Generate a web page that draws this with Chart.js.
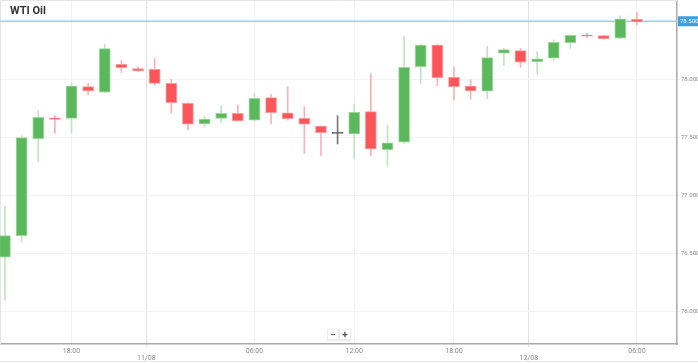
<!DOCTYPE html>
<html>
<head>
<meta charset="utf-8">
<script src="https://cdn.jsdelivr.net/npm/chart.js@4.4.1/dist/chart.umd.min.js"></script>
<style>
  html, body { margin: 0; padding: 0; background: #fff; }
  #wrap { position: relative; width: 698px; height: 364px; font-family: Roboto, "Open Sans", sans-serif; }
  #chart { display: block; }
  #title { position: absolute; left: 10px; top: 4px; font-size: 11px; font-weight: bold; color: #333; }
  .zbtn { position: absolute; top: 329px; width: 10px; height: 9px; background: #fff; border: 1px solid #ececec;
          box-shadow: 0 1px 1px rgba(0,0,0,0.08);
          font-size: 10px; line-height: 9px; text-align: center; color: #555; font-weight: bold; }
  #bottomline { position: absolute; left: 0; top: 361px; width: 698px; height: 1px; background: #e6e6e6; }
</style>
</head>
<body>
<div id="wrap">
  <canvas id="chart" width="698" height="364"></canvas>
  <div id="title">WTI Oil</div>
  <div class="zbtn" style="left:327px">−</div>
  <div class="zbtn" style="left:339px">+</div>
  <div id="bottomline"></div>
</div>
<script>
// hourly candles, 10/08 14:00 -> 12/08 06:00 (23:00 break skipped)
const hours = ['14:00','15:00','16:00','17:00','18:00','19:00','20:00','21:00','22:00',
  '00:00','01:00','02:00','03:00','04:00','05:00','06:00','07:00','08:00','09:00','10:00','11:00',
  '12:00','13:00','14:00','15:00','16:00','17:00','18:00','19:00','20:00','21:00','22:00',
  '00:00','01:00','02:00','03:00','04:00','05:00','06:00'];

const opens  = [76.47, 76.655, 77.49, 77.67, 77.665, 77.937, 77.889, 78.13, 78.092,
  78.087, 77.966, 77.794, 77.616, 77.665, 77.708, 77.648, 77.843, 77.713, 77.665, 77.599, 77.536,
  77.53, 77.722, 77.395, 77.459, 78.109, 78.296, 78.018, 77.943, 77.898, 78.225, 78.247,
  78.152, 78.182, 78.316, 78.38, 78.376, 78.354, 78.517];
const highs  = [76.91, 77.515, 77.73, 77.69, 77.972, 77.966, 78.305, 78.161, 78.109,
  78.18, 78.0, 77.80, 77.685, 77.771, 77.78, 77.88, 77.872, 77.937, 77.765, 77.60, 77.688,
  77.788, 78.046, 77.608, 78.373, 78.30, 78.30, 78.109, 77.995, 78.287, 78.268, 78.268,
  78.238, 78.339, 78.385, 78.397, 78.38, 78.546, 78.577];
const lows   = [76.10, 76.60, 77.29, 77.536, 77.536, 77.866, 77.885, 78.058, 78.066,
  77.949, 77.708, 77.565, 77.593, 77.627, 77.64, 77.64, 77.616, 77.65, 77.364, 77.343, 77.444,
  77.315, 77.341, 77.257, 77.45, 77.966, 77.946, 77.823, 77.829, 77.831, 78.118, 78.104,
  78.044, 78.164, 78.268, 78.359, 78.345, 78.35, 78.468];
const closes = [76.655, 77.50, 77.674, 77.655, 77.943, 77.90, 78.264, 78.10, 78.072,
  77.966, 77.80, 77.614, 77.659, 77.708, 77.642, 77.837, 77.713, 77.662, 77.614, 77.541, 77.536,
  77.717, 77.401, 77.453, 78.104, 78.296, 78.015, 77.937, 77.90, 78.187, 78.256, 78.147,
  78.176, 78.319, 78.38, 78.372, 78.35, 78.52, 78.494];

const currentPrice = 78.5;

const xTickPos    = [4, 8.5, 15, 21, 27, 31.5, 38];
const xTickLabels = ['18:00', ['', '11/08'], '06:00', '12:00', '18:00', ['', '12/08'], '06:00'];
const yTicks      = [76.0, 76.5, 77.0, 77.5, 78.0, 78.5];

const GREEN = '#5cb85c', GREEN_EDGE = '#9fd59f', GREEN_WICK = '#c2e4c2';
const RED = '#fc555a', RED_EDGE = '#fb9a9c', RED_WICK = '#f9b3b5';
const DOJI = '#555555';

function dir(i) {
  if (closes[i] > opens[i]) return 1;
  if (closes[i] < opens[i]) return -1;
  return 0;
}

const priceLine = {
  id: 'priceLine',
  beforeDatasetsDraw(chart) {
    const { ctx, chartArea, scales } = chart;
    const y = scales.y.getPixelForValue(currentPrice);
    ctx.save();
    // frame edges
    ctx.strokeStyle = '#e6e6e6';
    ctx.lineWidth = 1;
    ctx.beginPath();
    ctx.moveTo(0.5, 0);
    ctx.lineTo(0.5, chartArea.bottom);
    ctx.moveTo(0, 0.5);
    ctx.lineTo(chartArea.right, 0.5);
    ctx.stroke();
    // current price line
    ctx.strokeStyle = '#9ccdf1';
    ctx.lineWidth = 1.5;
    ctx.beginPath();
    ctx.moveTo(chartArea.left, y);
    ctx.lineTo(chartArea.right, y);
    ctx.stroke();
    ctx.restore();
  },
  afterDatasetsDraw(chart) {
    const { ctx, chartArea, scales } = chart;
    const y = scales.y.getPixelForValue(currentPrice);
    ctx.save();
    ctx.fillStyle = '#3d9fe3';
    ctx.fillRect(chartArea.right + 1, y - 5, 20, 10);
    ctx.fillStyle = '#fff';
    ctx.font = '6px Roboto, sans-serif';
    ctx.textBaseline = 'middle';
    ctx.fillText(currentPrice.toFixed(3), chartArea.right + 3, y);
    ctx.restore();
  }
};

new Chart(document.getElementById('chart'), {
  type: 'bar',
  data: {
    labels: hours,
    datasets: [
      {
        label: 'body',
        order: 0,
        grouped: false,
        barThickness: 11,
        borderWidth: 1,
        borderSkipped: false,
        minBarLength: 1,
        data: hours.map((h, i) => ({ x: i, y: [opens[i], closes[i]] })),
        backgroundColor: hours.map((h, i) => dir(i) > 0 ? GREEN : dir(i) < 0 ? RED : DOJI),
        borderColor: hours.map((h, i) => dir(i) > 0 ? GREEN_EDGE : dir(i) < 0 ? RED_EDGE : DOJI)
      },
      {
        label: 'wick',
        order: 1,
        grouped: false,
        barThickness: 1,
        borderWidth: 0,
        data: hours.map((h, i) => ({ x: i, y: [lows[i], highs[i]] })),
        backgroundColor: hours.map((h, i) => dir(i) > 0 ? GREEN_WICK : dir(i) < 0 ? RED_WICK : '#777')
      }
    ]
  },
  options: {
    responsive: false,
    animation: false,
    layout: { padding: 0 },
    plugins: {
      legend: { display: false },
      tooltip: { enabled: false }
    },
    scales: {
      x: {
        type: 'linear',
        offset: false,
        min: -0.3,
        max: 40.41,
        afterBuildTicks: (axis) => { axis.ticks = xTickPos.map(v => ({ value: v })); },
        afterFit: (axis) => { axis.height = 20; axis.paddingLeft = 0; axis.paddingRight = 0; },
        ticks: {
          autoSkip: false,
          maxRotation: 0,
          padding: 1,
          color: '#8a8a8a',
          font: { size: 7, family: 'Roboto, sans-serif', lineHeight: 1.0 },
          callback: (v, i) => xTickLabels[i]
        },
        grid: {
          offset: false,
          tickLength: 3,
          color: (c) => (c.index === 1 || c.index === 5) ? '#e2e2e2' : '#f2f2f2'
        },
        border: { color: '#a9a9a9', width: 1.5 }
      },
      y: {
        position: 'right',
        min: 75.723,
        max: 78.683,
        afterBuildTicks: (axis) => { axis.ticks = yTicks.map(v => ({ value: v })); },
        afterFit: (axis) => { axis.width = 21; axis.paddingTop = 0; axis.paddingBottom = 0; },
        ticks: {
          padding: 1,
          color: '#8a8a8a',
          font: { size: 6, family: 'Roboto, sans-serif' },
          callback: (v) => v.toFixed(3)
        },
        grid: { tickLength: 3, color: '#f3f3f3' },
        border: { color: '#a9a9a9', width: 1.5 }
      }
    }
  },
  plugins: [priceLine]
});
</script>
</body>
</html>
